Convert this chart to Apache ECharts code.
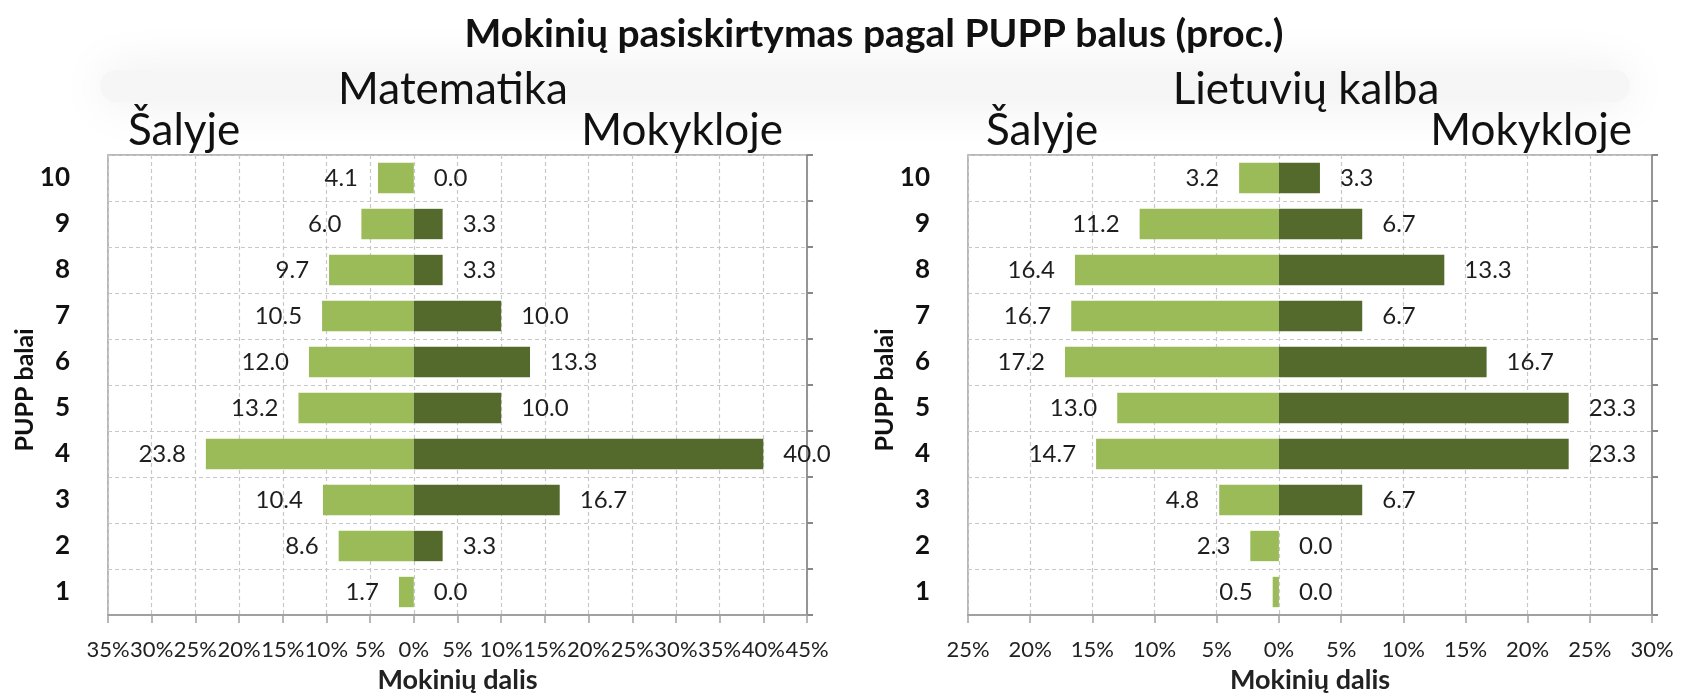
<!DOCTYPE html>
<html>
<head>
<meta charset="utf-8">
<script src="https://cdn.jsdelivr.net/npm/echarts@6/dist/echarts.min.js"></script>
<style>
  html, body { margin: 0; padding: 0; background: #fff; }
  #chart { width: 1681px; height: 699px; }
</style>
</head>
<body>
<div id="chart"></div>
<script>
// PUPP scores, bottom (1) to top (10)
const scores = ['1', '2', '3', '4', '5', '6', '7', '8', '9', '10'];

// Matematika
const mathCountry = [1.7, 8.6, 10.4, 23.8, 13.2, 12.0, 10.5, 9.7, 6.0, 4.1];
const mathSchool  = [0.0, 3.3, 16.7, 40.0, 10.0, 13.3, 10.0, 3.3, 3.3, 0.0];

// Lietuvių kalba
const litCountry = [0.5, 2.3, 4.8, 14.7, 13.0, 17.2, 16.7, 16.4, 11.2, 3.2];
const litSchool  = [0.0, 0.0, 6.7, 23.3, 23.3, 16.7, 6.7, 13.3, 6.7, 3.3];

// x-axis ranges (percent)
const mathRange = [-35, 45];
const litRange = [-25, 30];

const FONT = 'Lato, "Noto Sans", sans-serif';
const LIGHT = '#9BBB59';
const DARK = '#546A2C';
const GRID_LINE = '#c8c8c8';
const BORDER = '#a0a0a0';

const chart = echarts.init(document.getElementById('chart'));

// layout for the two panels
const panels = [
  { left: 108, width: 699, range: mathRange, country: mathCountry, school: mathSchool },
  { left: 968, width: 684, range: litRange, country: litCountry, school: litSchool }
];
const TOP = 155, HEIGHT = 465;

const grid = [], xAxis = [], yAxis = [], series = [];

panels.forEach((p, i) => {
  grid.push({
    left: p.left, top: TOP, width: p.width, height: HEIGHT,
    show: true, borderColor: BORDER, borderWidth: 1.5, backgroundColor: '#fff'
  });
  xAxis.push({
    type: 'value', gridIndex: i, min: p.range[0], max: p.range[1], interval: 5,
    axisLine: { show: true, lineStyle: { color: BORDER, width: 2 } },
    axisTick: { show: true, length: 8, lineStyle: { color: BORDER, width: 1.5 } },
    axisLabel: {
      fontFamily: FONT, fontSize: 22, color: '#222', margin: 24,
      formatter: v => Math.abs(v) + '%'
    },
    splitLine: { show: true, lineStyle: { color: GRID_LINE, type: [4, 3], width: 1.2 } },
    name: 'Mokinių dalis', nameLocation: 'middle', nameGap: 52,
    nameTextStyle: { fontFamily: FONT, fontSize: 27, fontWeight: 'bold', color: '#222' }
  });
  // labels at the left edge
  yAxis.push({
    type: 'category', gridIndex: i, data: scores,
    axisLine: { show: false }, axisTick: { show: false },
    axisLabel: { fontFamily: FONT, fontSize: 26, fontWeight: 'bold', color: '#111', margin: 38 },
    splitLine: { show: true, lineStyle: { color: GRID_LINE, type: [4, 3], width: 1.2 } }
  });
  // zero line with small ticks
  yAxis.push({
    type: 'category', gridIndex: i, data: scores,
    axisLine: { show: true, onZero: true, lineStyle: { color: '#888', width: 1.5 } },
    axisTick: { show: true, length: 6, lineStyle: { color: '#888', width: 2 } },
    axisLabel: { show: false },
    splitLine: { show: false }
  });

  const labelStyle = {
    show: true, fontFamily: FONT, fontSize: 24, color: '#1e1e1e', distance: 20,
    formatter: d => Math.abs(d.value).toFixed(1)
  };
  series.push({
    name: 'Šalyje', type: 'bar', xAxisIndex: i, yAxisIndex: i * 2,
    data: p.country.map(v => -v), barWidth: '66%', barGap: '-100%',
    itemStyle: { color: LIGHT },
    label: Object.assign({ position: 'left' }, labelStyle)
  });
  series.push({
    name: 'Mokykloje', type: 'bar', xAxisIndex: i, yAxisIndex: i * 2,
    data: p.school, barWidth: '66%', barGap: '-100%',
    itemStyle: { color: DARK },
    label: Object.assign({ position: 'right' }, labelStyle)
  });
});

const textStyle = (size, weight) => ({ fontFamily: FONT, fontSize: size, fontWeight: weight, fill: '#111' });

chart.setOption({
  backgroundColor: '#fff',
  animation: false,
  grid, xAxis, yAxis, series,
  graphic: [
    // faint soft band behind the subject titles
    {
      type: 'rect', z: -10, shape: { x: 100, y: 70, width: 1530, height: 32, r: 16 },
      style: { fill: '#f6f6f6', shadowBlur: 50, shadowColor: '#ebebeb' }
    },
    { type: 'text', x: 874, y: 34, style: Object.assign({ text: 'Mokinių pasiskirtymas pagal PUPP balus (proc.)', align: 'center', verticalAlign: 'middle' }, textStyle(39, 'bold')) },
    { type: 'text', x: 453, y: 90, style: Object.assign({ text: 'Matematika', align: 'center', verticalAlign: 'middle' }, textStyle(44, 'normal')) },
    { type: 'text', x: 1306, y: 90, style: Object.assign({ text: 'Lietuvių kalba', align: 'center', verticalAlign: 'middle' }, textStyle(44, 'normal')) },
    { type: 'text', x: 128, y: 131, style: Object.assign({ text: 'Šalyje', align: 'left', verticalAlign: 'middle' }, textStyle(44, 'normal')) },
    { type: 'text', x: 783, y: 131, style: Object.assign({ text: 'Mokykloje', align: 'right', verticalAlign: 'middle' }, textStyle(44, 'normal')) },
    { type: 'text', x: 986, y: 131, style: Object.assign({ text: 'Šalyje', align: 'left', verticalAlign: 'middle' }, textStyle(44, 'normal')) },
    { type: 'text', x: 1632, y: 131, style: Object.assign({ text: 'Mokykloje', align: 'right', verticalAlign: 'middle' }, textStyle(44, 'normal')) },
    { type: 'text', x: 25, y: 390, rotation: Math.PI / 2, style: Object.assign({ text: 'PUPP balai', align: 'center', verticalAlign: 'middle' }, textStyle(25, 'bold')) },
    { type: 'text', x: 885, y: 390, rotation: Math.PI / 2, style: Object.assign({ text: 'PUPP balai', align: 'center', verticalAlign: 'middle' }, textStyle(25, 'bold')) }
  ]
});
</script>
</body>
</html>
